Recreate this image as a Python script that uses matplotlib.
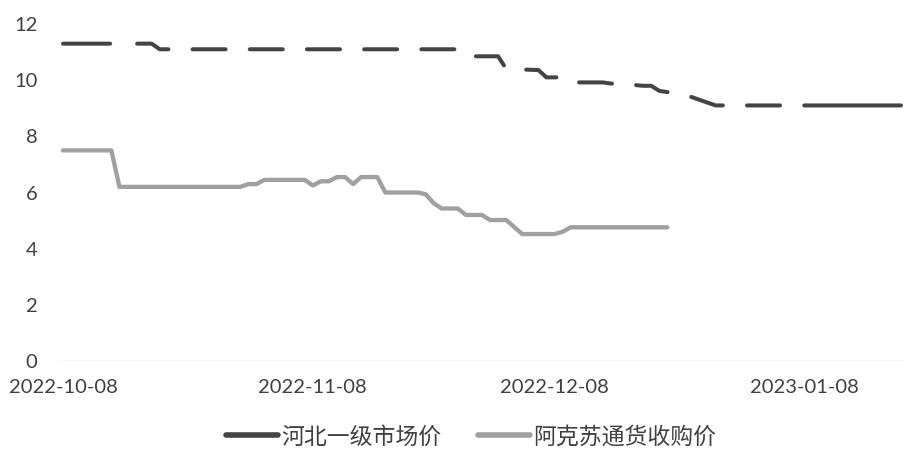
import numpy as np
import pandas as pd
import matplotlib
matplotlib.use('Agg')
import matplotlib.pyplot as plt
import matplotlib.dates as mdates
from matplotlib.lines import Line2D

# 河北一级市场价 (dark dashed)
hebei_dates = ['2022-10-08', '2022-10-19', '2022-10-20', '2022-11-26', '2022-11-27',
               '2022-12-01', '2022-12-02', '2022-12-06', '2022-12-07', '2022-12-09',
               '2022-12-10', '2022-12-14', '2022-12-15', '2022-12-16', '2022-12-19',
               '2022-12-20', '2022-12-21', '2022-12-23', '2022-12-25', '2022-12-28',
               '2023-01-20']
hebei_price = [11.3, 11.3, 11.1, 11.1, 10.85,
               10.85, 10.4, 10.36, 10.1, 10.1,
               9.92, 9.92, 9.88, 9.88, 9.8,
               9.8, 9.62, 9.53, 9.4, 9.1,
               9.1]

# 阿克苏通货收购价 (grey solid)
aksu_dates = ['2022-10-08', '2022-10-14', '2022-10-15', '2022-10-30', '2022-10-31',
              '2022-11-01', '2022-11-02', '2022-11-07', '2022-11-08', '2022-11-09',
              '2022-11-10', '2022-11-11', '2022-11-12', '2022-11-13', '2022-11-14',
              '2022-11-16', '2022-11-17', '2022-11-21', '2022-11-22', '2022-11-23',
              '2022-11-24', '2022-11-26', '2022-11-27', '2022-11-29', '2022-11-30',
              '2022-12-02', '2022-12-04', '2022-12-08', '2022-12-09', '2022-12-10',
              '2022-12-22']
aksu_price = [7.5, 7.5, 6.2, 6.2, 6.3,
              6.3, 6.45, 6.45, 6.25, 6.4,
              6.4, 6.55, 6.55, 6.3, 6.55,
              6.55, 6.0, 6.0, 5.94, 5.62,
              5.43, 5.43, 5.2, 5.2, 5.02,
              5.02, 4.52, 4.52, 4.6, 4.76,
              4.76]

tick_dates = ['2022-10-08', '2022-11-08', '2022-12-08', '2023-01-08']
y_ticks = [0, 2, 4, 6, 8, 10, 12]
series_names = ['河北一级市场价', '阿克苏通货收购价']

DARK = '#444444'
GREY = '#a0a0a0'
TXT = '#404040'

hx = pd.to_datetime(hebei_dates)
akx = pd.to_datetime(aksu_dates)

fig = plt.figure(figsize=(9.14, 4.61), dpi=100)
ax = fig.add_axes([59/914, 100/461, 846/914, 337/461])

ax.axhline(0, color='#d9d9d9', lw=1.0, zorder=1)
# excel long dash: longer first dash, regular run, last dash runs to the end
dash_seq = [11.7, 6.7] + [8.2, 6] * 12 + [40, 2]
ax.plot(hx, hebei_price, color=DARK, lw=2.9, linestyle=(0, dash_seq),
        dash_capstyle='round', solid_capstyle='round', zorder=3)
ax.plot(akx, aksu_price, color=GREY, lw=3.1, solid_capstyle='round',
        solid_joinstyle='round', zorder=2)

x0 = pd.Timestamp(hebei_dates[0]) - pd.Timedelta(hours=12)
x1 = pd.Timestamp(hebei_dates[-1]) + pd.Timedelta(hours=12)
ax.set_xlim(x0, x1)
ax.set_ylim(0, 12)

ax.set_yticks(y_ticks)
ax.set_xticks(pd.to_datetime(tick_dates))
ax.xaxis.set_major_formatter(mdates.DateFormatter('%Y-%m-%d'))

for s in ax.spines.values():
    s.set_visible(False)
ax.tick_params(axis='both', length=0, labelsize=14.5, labelcolor=TXT)
ax.tick_params(axis='y', pad=15.5)
ax.tick_params(axis='x', pad=13)
for lab in ax.get_xticklabels() + ax.get_yticklabels():
    lab.set_fontfamily(['Lato', 'DejaVu Sans'])

handles = [Line2D([], [], color=DARK, lw=4, solid_capstyle='round'),
           Line2D([], [], color=GREY, lw=4, solid_capstyle='round')]
leg = fig.legend(handles, series_names, loc='center', ncol=2,
                 bbox_to_anchor=(471/914, 1 - 437/461), frameon=False,
                 handlelength=2.27, handletextpad=0.15, columnspacing=1.6,
                 prop={'family': ['Noto Sans CJK SC', 'DejaVu Sans'], 'size': 16.5, 'weight': 'light'})
for t in leg.get_texts():
    t.set_color(TXT)

fig.savefig('out.png', dpi=100)
